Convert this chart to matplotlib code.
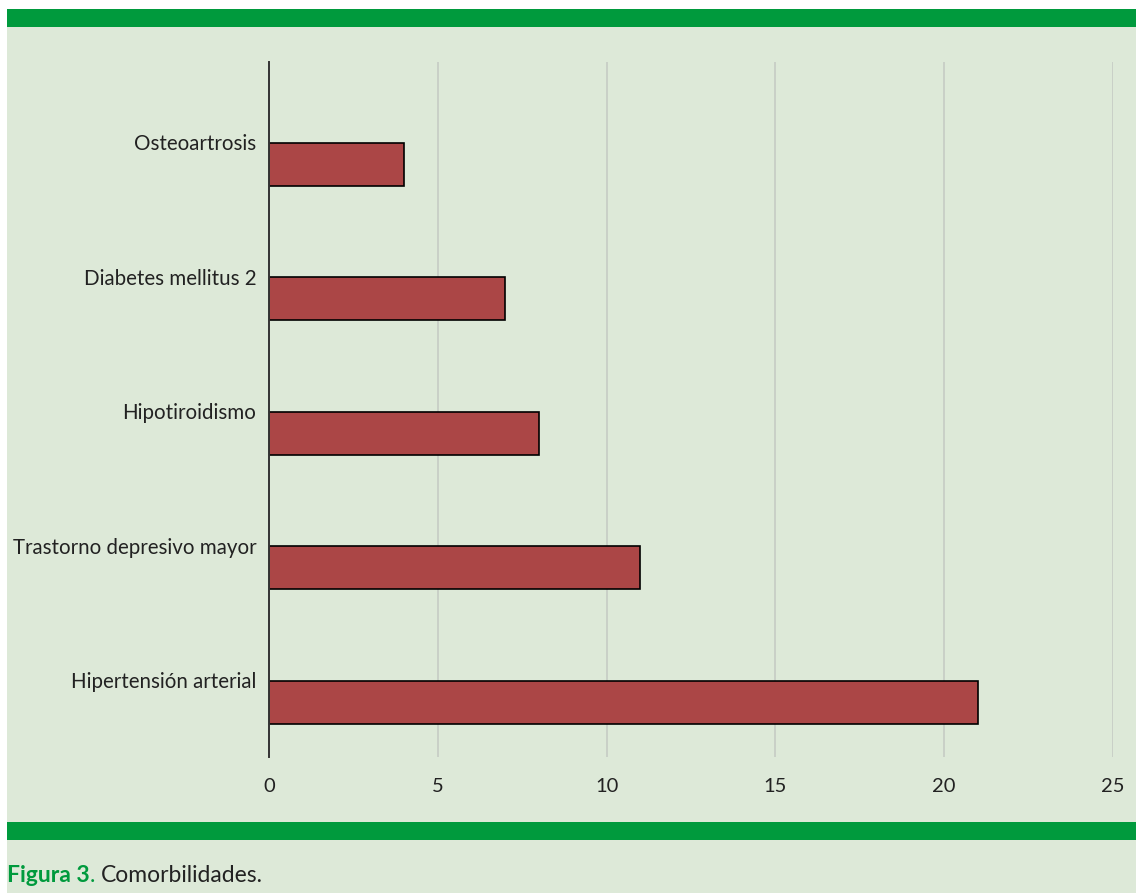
from matplotlib import pyplot as plt
from matplotlib.patches import Rectangle

categorias = ['Hipertensión arterial', 'Trastorno depresivo mayor',
              'Hipotiroidismo', 'Diabetes mellitus 2', 'Osteoartrosis']
valores = [21, 11, 8, 7, 4]
x_ticks = [0, 5, 10, 15, 20, 25]

fondo = '#dde9d8'
verde = '#009a3d'
barra = '#ab4646'

plt.rcParams['font.family'] = ['Lato', 'DejaVu Sans']

fig = plt.figure(figsize=(11.36, 8.93), dpi=100)
fig.patch.set_facecolor('white')

# fondo verde claro y bandas (detras de los ejes)
fig.patches.append(Rectangle((7/1136, 0), 1, 1 - 27/893, transform=fig.transFigure,
                             facecolor=fondo, edgecolor='none', zorder=-10))
for y0, y1 in [(9, 27), (822, 840)]:
    fig.patches.append(Rectangle((7/1136, 1 - y1/893), 1, (y1 - y0)/893,
                                 transform=fig.transFigure, facecolor=verde,
                                 edgecolor='none', zorder=-9))

ax = fig.add_axes([269/1136, 1 - 757/893, (1113 - 269)/1136, (757 - 62)/893])
ax.set_facecolor('none')

pos = list(range(len(categorias)))
ax.barh(pos, valores, height=0.32, color=barra, edgecolor='black', linewidth=1.2, zorder=3)

ax.set_xlim(0, 25)
ax.set_ylim(-0.405, 4.76)
ax.set_xticks(x_ticks)
ax.set_xticklabels([str(t) for t in x_ticks], fontsize=14.5, color='#222222')
ax.set_yticks([p + 0.165 for p in pos])
ax.set_yticklabels(categorias, fontsize=14.8, color='#222222')
ax.tick_params(axis='x', length=0, pad=15)
ax.tick_params(axis='y', length=0, pad=9)

ax.grid(axis='x', color='#c6cbc4', linewidth=1.2, zorder=1)
ax.grid(axis='y', visible=False)
for s in ['top', 'right', 'bottom']:
    ax.spines[s].set_visible(False)
ax.spines['left'].set_color('#333333')
ax.spines['left'].set_linewidth(1.4)
ax.spines['left'].set_zorder(4)

# pie de figura
yc = 1 - 876/893
t1 = fig.text(7/1136, yc, 'Figura 3', fontsize=16.5, fontweight='bold',
              color=verde, va='center', ha='left')
fig.canvas.draw()
r = fig.canvas.get_renderer()
x1 = fig.transFigure.inverted().transform((t1.get_window_extent(r).x1, 0))[0]
t2 = fig.text(x1, yc, '.', fontsize=16.5, color=verde, va='center', ha='left')
fig.canvas.draw()
x2 = fig.transFigure.inverted().transform((t2.get_window_extent(r).x1 + 6, 0))[0]
fig.text(x2, yc, 'Comorbilidades.', fontsize=16.5, color='#222222',
         va='center', ha='left')

fig.savefig('out.png', dpi=100, facecolor=fig.get_facecolor())
